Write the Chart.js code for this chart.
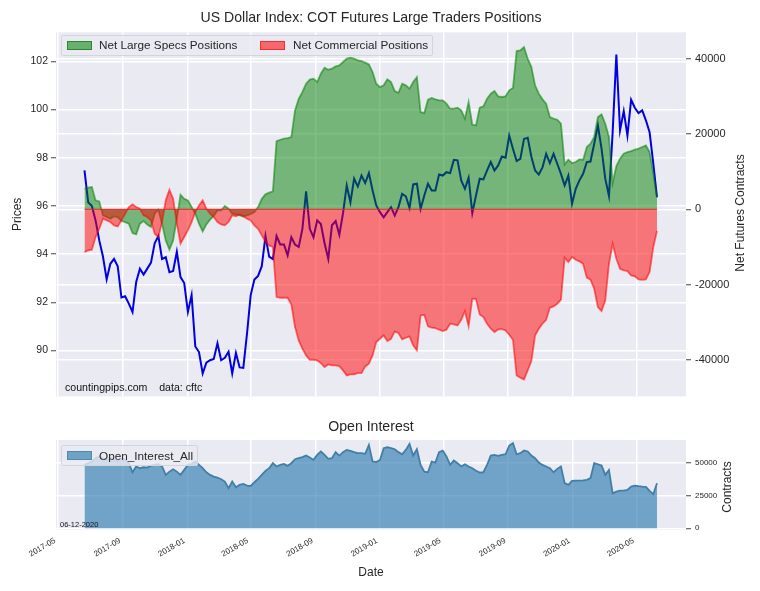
<!DOCTYPE html>
<html>
<head>
<meta charset="utf-8">
<title>US Dollar Index COT</title>
<script src="https://cdn.jsdelivr.net/npm/chart.js@4"></script>
<style>
    html, body { margin: 0; padding: 0; background: #fff; }
    #page { position: relative; width: 760px; height: 591px; overflow: hidden; font-family: "Liberation Sans", Arial, sans-serif; color: #262626; }
    canvas { position: absolute; left: 0; }
    .legend { position: absolute; box-sizing: border-box; background: rgba(234,234,242,0.8); border: 1px solid #d4d4dc; border-radius: 2px; font-size: 11.75px; }
    .swatch { position: absolute; width: 25px; height: 9px; top: 5px; box-sizing: border-box; }
    .legend span { position: absolute; white-space: nowrap; line-height: 14px; top: 2px; }
    .note { position: absolute; white-space: nowrap; color: #111; }
    .vtitle { position: absolute; white-space: nowrap; font-size: 12px; transform: translate(-50%, -50%) rotate(-90deg); }
</style>
</head>
<body>
<div id="page">
    <canvas id="cot-chart" width="760" height="407" style="top:0"></canvas>
    <canvas id="oi-chart" width="760" height="176" style="top:415px"></canvas>

    <div class="legend" style="left:61px;top:35px;width:372px;height:21px">
        <div class="swatch" style="left:5px;background:rgba(0,128,0,0.55);border:1px solid rgba(0,110,0,0.6)"></div>
        <span id="legend-specs" style="left:37px"></span>
        <div class="swatch" style="left:198px;background:rgba(255,0,0,0.55);border:1px solid rgba(255,0,0,0.6)"></div>
        <span id="legend-comm" style="left:231px"></span>
    </div>
    <div class="legend" style="left:61px;top:445px;width:137px;height:21px">
        <div class="swatch" style="left:5px;background:#6fa3c4;border:1px solid #4f8bb0"></div>
        <span id="legend-oi" style="left:37px;top:3px"></span>
    </div>

    <div class="note" style="left:65px;top:381px;font-size:10.6px">countingpips.com &nbsp;&nbsp;&nbsp;data: cftc</div>
    <div class="note" style="left:60px;top:520px;font-size:7.5px">06-12-2020</div>
    <div class="vtitle" style="left:740px;top:213px">Net Futures Contracts</div>
    <div class="vtitle" style="left:727px;top:487px">Contracts</div>
</div>

<script>
var weekDates = [
    "2017-06-20","2017-06-27","2017-07-04","2017-07-11","2017-07-18","2017-07-25","2017-08-01","2017-08-08","2017-08-15","2017-08-22","2017-08-29",
    "2017-09-05","2017-09-12","2017-09-19","2017-09-26","2017-10-03","2017-10-10","2017-10-17","2017-10-24","2017-10-31","2017-11-07","2017-11-14","2017-11-21","2017-11-28",
    "2017-12-05","2017-12-12","2017-12-19","2017-12-26",
    "2018-01-02","2018-01-09","2018-01-16","2018-01-23","2018-01-30","2018-02-06","2018-02-13","2018-02-20","2018-02-27","2018-03-06","2018-03-13","2018-03-20","2018-03-27",
    "2018-04-03","2018-04-10","2018-04-17","2018-04-24","2018-05-01","2018-05-08","2018-05-15","2018-05-22","2018-05-29","2018-06-05","2018-06-12","2018-06-19","2018-06-26",
    "2018-07-03","2018-07-10","2018-07-17","2018-07-24","2018-07-31","2018-08-07","2018-08-14","2018-08-21","2018-08-28","2018-09-04","2018-09-11","2018-09-18","2018-09-25",
    "2018-10-02","2018-10-09","2018-10-16","2018-10-23","2018-10-30","2018-11-06","2018-11-13","2018-11-20","2018-11-27","2018-12-04","2018-12-11","2018-12-18","2018-12-25",
    "2019-01-01","2019-01-08","2019-01-15","2019-01-22","2019-01-29","2019-02-05","2019-02-12","2019-02-19","2019-02-26","2019-03-05","2019-03-12","2019-03-19","2019-03-26",
    "2019-04-02","2019-04-09","2019-04-16","2019-04-23","2019-04-30","2019-05-07","2019-05-14","2019-05-21","2019-05-28","2019-06-04","2019-06-11","2019-06-18","2019-06-25",
    "2019-07-02","2019-07-09","2019-07-16","2019-07-23","2019-07-30","2019-08-06","2019-08-13","2019-08-20","2019-08-27","2019-09-03","2019-09-10","2019-09-17","2019-09-24",
    "2019-10-01","2019-10-08","2019-10-15","2019-10-22","2019-10-29","2019-11-05","2019-11-12","2019-11-19","2019-11-26","2019-12-03","2019-12-10","2019-12-17","2019-12-24","2019-12-31",
    "2020-01-07","2020-01-14","2020-01-21","2020-01-28","2020-02-04","2020-02-11","2020-02-18","2020-02-25","2020-03-03","2020-03-10","2020-03-17","2020-03-24","2020-03-31",
    "2020-04-07","2020-04-14","2020-04-21","2020-04-28","2020-05-05","2020-05-12","2020-05-19","2020-05-26","2020-06-02","2020-06-09"
];

var prices = [
    97.47,96.15,96.0,95.4,94.57,93.9,92.95,93.6,93.8,93.5,92.2,92.25,91.95,91.6,92.85,93.4,93.15,93.4,93.65,94.45,
    94.75,93.8,93.87,93.25,93.3,94.1,93.05,92.8,91.6,92.3,90.17,89.94,89.05,89.5,89.6,89.65,90.3,89.6,89.7,89.95,
    89.05,89.9,89.3,89.28,90.7,92.3,92.95,93.1,93.5,94.75,93.9,93.8,94.75,94.4,94.4,93.95,94.7,94.4,94.3,95.05,
    96.6,95.05,94.7,95.4,95.25,94.45,93.8,95.2,95.37,94.8,95.7,96.85,96.15,97.13,96.8,97.26,96.95,97.36,96.64,96.02,
    95.74,95.53,95.74,95.95,95.6,95.95,96.5,96.4,95.92,96.89,96.92,95.88,96.43,96.92,96.64,96.64,97.3,97.26,97.4,97.36,
    97.91,97.89,97.06,96.71,97.17,95.7,96.43,97.13,97.1,97.47,97.82,97.47,97.68,98.05,98.0,98.92,98.37,97.86,97.95,98.78,
    98.83,98.03,97.47,97.3,97.6,98.16,97.78,98.16,97.75,97.33,96.85,97.26,96.09,96.71,97.06,97.33,97.82,97.84,98.58,99.34,
    98.37,97.13,96.41,99.06,102.28,99.13,99.93,98.92,100.4,100.07,99.85,99.96,99.55,99.06,97.75,96.36
];

var largeSpecs = [
    5490,5760,5940,2390,2120,-1600,-2040,-2480,-1860,-2040,-3100,-3370,-3800,-6300,-6650,-3800,-3100,-4000,-4700,-1150,
    -90,-3800,-8240,-10700,-8240,-2480,3900,2800,2400,620,-1150,-3800,-5850,-4000,-2750,-1770,-270,-270,890,180,
    -1150,-1330,-1600,-1860,-1600,-1300,-700,620,2800,3990,4430,4780,18160,18500,18780,18960,19230,26300,29400,31200,
    33400,34500,34730,33850,36060,37650,37120,37400,38000,38280,39160,40050,40300,40050,39600,39430,38980,38540,36500,33400,
    32500,32960,34550,33850,31450,31000,33400,32960,32070,33850,35170,25870,25600,29150,29590,29240,28970,28970,28080,26760,
    26760,27020,26310,24100,28530,22500,22320,27020,27380,29410,30750,31450,30040,29860,30040,31630,32250,42080,42260,43150,
    40050,37830,32960,30750,29240,28080,24540,24100,23830,22770,11960,13200,12310,12580,13290,13200,16570,17450,19230,24540,
    25250,22770,19230,7000,11500,13470,14800,15240,15500,15860,16130,16570,17010,15240,9480,3280
];

var commercials = [
    -11340,-10900,-10700,-7350,-5140,-2480,-2920,-3370,-4250,-4520,-2920,-1150,620,1330,620,180,-1600,-2040,-2920,-6470,
    -7350,-3370,2400,5230,2830,-3800,-9130,-7350,-5580,-3370,-700,1060,2400,180,-1150,-2040,-3370,-4000,-4250,-3370,
    -1600,-1860,-1330,-1860,-2480,-2920,-4250,-5140,-6900,-8680,-9570,-10000,-23300,-23480,-23480,-23480,-25250,-31280,-34820,-37030,
    -38800,-39960,-39960,-40140,-40850,-41900,-41200,-41460,-41460,-41640,-42800,-44120,-43860,-43860,-43500,-43500,-41730,-41020,-38800,-35260,
    -34380,-33490,-34990,-34380,-32430,-32870,-34550,-34110,-33760,-36150,-37480,-28180,-28000,-31100,-31450,-31540,-31980,-32340,-31980,-30390,
    -30560,-30830,-29330,-27020,-31100,-23740,-23830,-27900,-28620,-30390,-31720,-32600,-31900,-31810,-32160,-33310,-34640,-44120,-44740,-45190,
    -42800,-40300,-33490,-31720,-30390,-29330,-26140,-25780,-25070,-24000,-12850,-14000,-12670,-13380,-13820,-14440,-18160,-18700,-21090,-25960,
    -27020,-24190,-14440,-9130,-13110,-15770,-16210,-16390,-17540,-17810,-18610,-18700,-18610,-16660,-10000,-5760
];

var openInterest = [
    48200,49500,50800,53300,54600,53300,52000,53800,52000,50800,53300,52000,49500,42600,47000,45700,46400,46200,47700,48200,
    48700,47000,40600,43100,44900,43100,40600,44400,48200,48700,50800,48200,45700,42600,40600,39300,38600,37300,35500,30500,
    35500,31200,33000,33800,32500,32200,35000,37600,40600,43700,45700,49500,47000,48200,49000,47500,49500,52500,53300,54100,
    55300,53800,52000,55800,58400,55800,52800,53300,57900,55300,57900,59600,58900,57900,57100,57100,56600,63400,50800,50300,
    52000,60900,61700,60900,60100,57900,56300,59600,64200,55300,60100,48200,43100,42600,50800,50000,57900,59100,54600,48200,
    51500,49500,47000,48700,47000,45700,43700,42400,42600,48200,55300,55800,55100,55800,56300,62900,64700,56300,57100,59100,
    58400,55300,53300,50000,48200,47000,45700,42600,45200,47000,34300,33000,36000,36300,36300,36500,36800,38100,49500,48700,
    47700,40600,44400,26600,27900,28700,28700,29200,31700,32500,32000,31700,31500,28400,25900,34300
];

var priceTicks = [90, 92, 94, 96, 98, 100, 102];
var contractTicks = [-40000, -20000, 0, 20000, 40000];
var oiTicks = [0, 25000, 50000];
var monthLabels = ["2017-05","2017-09","2018-01","2018-05","2018-09","2019-01","2019-05","2019-09","2020-01","2020-05"];

var specsLabel = "Net Large Specs Positions";
var commLabel = "Net Commercial Positions";
var oiLabel = "Open_Interest_All";

var FONT = "'Liberation Sans', Arial, sans-serif";
var TEXT = "#262626";
var PLOT_BG = "#EAEAF2";

function toPoints(values){
    var pts = [];
    for(var i = 0; i < values.length; i++){
        pts.push({x: Date.parse(weekDates[i]), y: values[i]});
    }
    return pts;
}

function monthTickValues(){
    return monthLabels.map(function(m){ return {value: Date.parse(m + "-01")}; });
}

function fixedTicks(list){
    return function(scale){
        scale.ticks = list.map(function(v){ return {value: v}; });
    };
}

function fixedWidth(w){
    return function(scale){ scale.width = w; };
}

function fixedHeight(h){
    return function(scale){ scale.height = h; };
}

var plotBackground = {
    id: "plotBackground",
    beforeDraw: function(chart){
        var a = chart.chartArea;
        chart.ctx.save();
        chart.ctx.fillStyle = PLOT_BG;
        chart.ctx.fillRect(a.left, a.top, a.right - a.left, a.bottom - a.top);
        chart.ctx.restore();
    }
};

var xMin = Date.parse("2017-04-27");
var xMax = Date.parse("2020-08-03");
var gridLine = {color: "#fff", lineWidth: 1.5, tickColor: "#444", tickLength: 5, tickWidth: 1};

function cotChart(){
    var first = Date.parse(weekDates[0]);
    var last = Date.parse(weekDates[weekDates.length - 1]);

    new Chart(document.getElementById("cot-chart").getContext("2d"), {
        type: "line",
        plugins: [plotBackground],
        data: {
            datasets: [
                {
                    label: "Zero",
                    data: [{x: first, y: 0}, {x: last, y: 0}],
                    yAxisID: "yContracts",
                    borderColor: "rgba(230,30,30,0.75)",
                    borderWidth: 1.2,
                    order: 0
                },
                {
                    label: commLabel,
                    data: toPoints(commercials),
                    yAxisID: "yContracts",
                    borderColor: "rgba(255,0,0,0.55)",
                    backgroundColor: "rgba(255,0,0,0.5)",
                    borderWidth: 1.8,
                    fill: "origin",
                    order: 1
                },
                {
                    label: specsLabel,
                    data: toPoints(largeSpecs),
                    yAxisID: "yContracts",
                    borderColor: "rgba(0,128,0,0.55)",
                    backgroundColor: "rgba(0,128,0,0.5)",
                    borderWidth: 1.8,
                    fill: "origin",
                    order: 2
                },
                {
                    label: "Prices",
                    data: toPoints(prices),
                    yAxisID: "yPrices",
                    borderColor: "#0000e0",
                    borderWidth: 2,
                    fill: false,
                    order: 3
                }
            ]
        },
        options: {
            responsive: false,
            animation: false,
            parsing: false,
            layout: {padding: {top: 0, bottom: 7}},
            elements: {point: {radius: 0}, line: {tension: 0}},
            plugins: {
                legend: {display: false},
                tooltip: {enabled: false},
                title: {
                    display: true,
                    text: "US Dollar Index: COT Futures Large Traders Positions",
                    color: TEXT,
                    fullSize: false,
                    font: {family: FONT, size: 14.1, weight: "normal"},
                    padding: {top: 10, bottom: 5.4}
                }
            },
            scales: {
                x: {
                    type: "linear",
                    min: xMin,
                    max: xMax,
                    afterBuildTicks: function(scale){ scale.ticks = monthTickValues(); },
                    afterFit: fixedHeight(0),
                    grid: {color: "#fff", lineWidth: 1.5, drawTicks: false},
                    border: {display: false},
                    ticks: {display: false}
                },
                yPrices: {
                    position: "left",
                    min: 88.1,
                    max: 103.2,
                    afterBuildTicks: fixedTicks(priceTicks),
                    afterFit: fixedWidth(56),
                    grid: gridLine,
                    border: {display: false},
                    ticks: {color: TEXT, padding: 3, font: {family: FONT, size: 10.5}, callback: function(v){ return v; }},
                    title: {display: true, text: "Prices", color: TEXT, font: {family: FONT, size: 12}, padding: {top: 10, bottom: 0}}
                },
                yContracts: {
                    position: "right",
                    min: -49700,
                    max: 47050,
                    afterBuildTicks: fixedTicks(contractTicks),
                    afterFit: fixedWidth(74),
                    grid: gridLine,
                    border: {display: false},
                    ticks: {color: TEXT, padding: 4, font: {family: FONT, size: 11}, callback: function(v){ return v; }}
                }
            }
        }
    });
}

function openInterestChart(){
    new Chart(document.getElementById("oi-chart").getContext("2d"), {
        type: "line",
        plugins: [plotBackground],
        data: {
            datasets: [
                {
                    label: oiLabel,
                    data: toPoints(openInterest),
                    borderColor: "#417fa6",
                    backgroundColor: "rgba(31,113,170,0.6)",
                    borderWidth: 1.8,
                    fill: "origin"
                }
            ]
        },
        options: {
            responsive: false,
            animation: false,
            parsing: false,
            layout: {padding: 0},
            elements: {point: {radius: 0}, line: {tension: 0}},
            plugins: {
                legend: {display: false},
                tooltip: {enabled: false},
                title: {
                    display: true,
                    text: "Open Interest",
                    color: TEXT,
                    fullSize: false,
                    font: {family: FONT, size: 14.1, weight: "normal"},
                    padding: {top: 4, bottom: 4}
                }
            },
            scales: {
                x: {
                    type: "linear",
                    min: xMin,
                    max: xMax,
                    afterBuildTicks: function(scale){ scale.ticks = monthTickValues(); },
                    afterFit: fixedHeight(61),
                    grid: {color: "#fff", lineWidth: 1.5, drawTicks: false},
                    border: {display: false},
                    ticks: {
                        color: TEXT,
                        maxRotation: 30,
                        minRotation: 30,
                        padding: 6,
                        labelOffset: -3,
                        autoSkip: false,
                        font: {family: FONT, size: 8},
                        callback: function(v, i){ return monthLabels[i]; }
                    },
                    title: {display: true, text: "Date", color: TEXT, font: {family: FONT, size: 12}, padding: {top: 0, bottom: 11}}
                },
                y: {
                    position: "right",
                    min: -1300,
                    max: 67200,
                    afterBuildTicks: fixedTicks(oiTicks),
                    afterFit: fixedWidth(74),
                    grid: gridLine,
                    border: {display: false},
                    ticks: {color: TEXT, padding: 4, font: {family: FONT, size: 8}, callback: function(v){ return v; }}
                },
                yLeftSpacer: {
                    position: "left",
                    afterFit: fixedWidth(56),
                    grid: {display: false},
                    border: {display: false},
                    ticks: {display: false}
                }
            }
        }
    });
}

document.getElementById("legend-specs").textContent = specsLabel;
document.getElementById("legend-comm").textContent = commLabel;
document.getElementById("legend-oi").textContent = oiLabel;

cotChart();
openInterestChart();
</script>
</body>
</html>
